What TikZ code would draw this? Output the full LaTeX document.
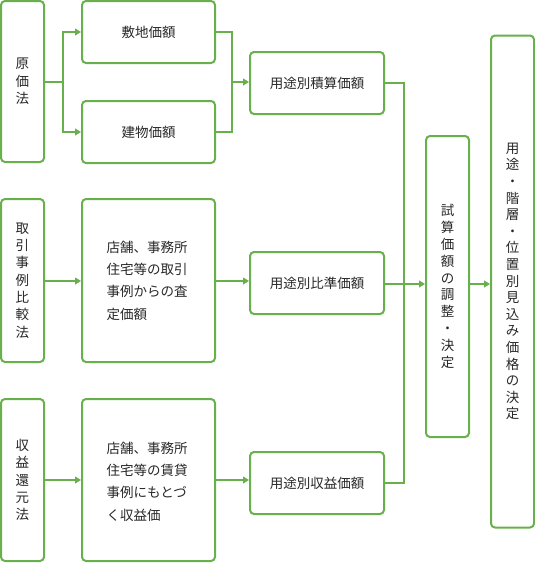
\documentclass[tikz,border=0pt]{standalone}
\usepackage{fontspec}
\setmainfont{Noto Sans CJK JP}
\usetikzlibrary{arrows.meta}
\definecolor{grn}{RGB}{104,176,76}
\definecolor{txt}{RGB}{40,40,40}
\tikzset{
  box/.style={draw=grn, line width=2pt, rounded corners=4pt, fill=white, inner sep=0pt, text=txt, align=center},
  vtext/.style={font=\fontsize{13.5pt}{17.3pt}\selectfont},
  htext/.style={font=\fontsize{13.5pt}{22.3pt}\selectfont},
  conn/.style={draw=grn, line width=1.1pt},
  arr/.style={conn, -{Triangle[length=6pt,width=7pt]}},
}
\begin{document}
\begin{tikzpicture}[x=1pt,y=-1pt]
\useasboundingbox (0,0) rectangle (535,563);
% column 1
\node[box,vtext,minimum width=43pt,minimum height=161pt] (genka) at (22.5,81.5) {原\\価\\法};
\node[box,vtext,minimum width=43pt,minimum height=163pt] (tori) at (22.5,280.5) {取\\引\\事\\例\\比\\較\\法};
\node[box,vtext,minimum width=43pt,minimum height=162pt] (shu) at (22.5,480) {収\\益\\還\\元\\法};
% column 2
\node[box,htext,minimum width=133pt,minimum height=62pt] (shiki) at (148.5,32) {敷地価額};
\node[box,htext,minimum width=133pt,minimum height=62pt] (tate) at (148.5,132) {建物価額};
\node[box,minimum width=133pt,minimum height=163pt] (ten1) at (148.5,280.5) {};
\node[htext,text=txt,align=left,anchor=west,inner sep=0pt] (t1) at (106.5,280.5) {店舗、事務所\\住宅等の取引\\事例からの査\\定価額};
\node[box,minimum width=133pt,minimum height=162pt] (ten2) at (148.5,480) {};
\node[htext,text=txt,align=left,anchor=west,inner sep=0pt] (t2) at (106.5,481.5) {店舗、事務所\\住宅等の賃貸\\事例にもとづ\\く収益価};
% column 3
\node[box,htext,minimum width=134pt,minimum height=62pt] (seki) at (317,83) {用途別積算価額};
\node[box,htext,minimum width=134pt,minimum height=62pt] (hijun) at (317,283) {用途別比準価額};
\node[box,htext,minimum width=134pt,minimum height=62pt] (shueki) at (317,483) {用途別収益価額};
% column 4 and 5
\node[box,vtext,font=\fontsize{13.5pt}{16.8pt}\selectfont,minimum width=43pt,minimum height=301pt] (shisan) at (447.5,286.5) {試\\算\\価\\額\\の\\調\\整\\・\\決\\定};
\node[box,vtext,font=\fontsize{13.5pt}{16.6pt}\selectfont,minimum width=43pt,minimum height=492pt] (final) at (512.5,281.5) {用\\途\\・\\階\\層\\・\\位\\置\\別\\見\\込\\み\\価\\格\\の\\決\\定};
% connectors
\coordinate (j1) at (63,82);
\draw[conn] (genka.east |- j1) -- (j1);
\draw[arr] (j1) |- (shiki.west);
\draw[arr] (j1) |- (tate.west);
\coordinate (j2) at (232,82);
\draw[conn] (shiki.east) -| (j2);
\draw[conn] (tate.east) -| (j2);
\draw[arr] (j2) -- (j2 -| seki.west);
\coordinate (a2) at (0,281);
\draw[arr] (tori.east |- a2) -- (ten1.west |- a2);
\draw[arr] (ten1.east |- a2) -- (hijun.west |- a2);
\coordinate (a3) at (0,480);
\draw[arr] (shu.east |- a3) -- (ten2.west |- a3);
\draw[arr] (ten2.east |- a3) -- (shueki.west |- a3);
\coordinate (v) at (404,284);
\draw[conn] (seki.east) -| (v);
\draw[conn] (shueki.east) -| (v);
\draw[arr] (hijun.east |- v) -- (shisan.west |- v);
\draw[arr] (shisan.east |- v) -- (final.west |- v);
\end{tikzpicture}
\end{document}
